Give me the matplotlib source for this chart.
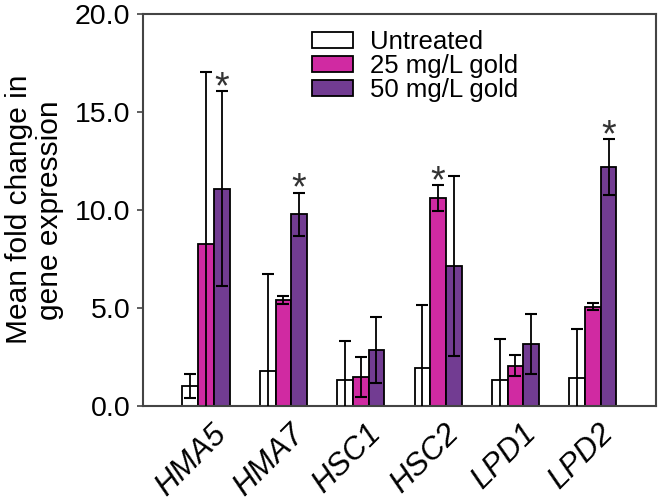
import numpy as np
import matplotlib
matplotlib.use('Agg')
import matplotlib.pyplot as plt
from matplotlib.transforms import ScaledTranslation

plt.rcParams['font.family'] = ['Liberation Sans', 'DejaVu Sans']

genes = ['HMA5', 'HMA7', 'HSC1', 'HSC2', 'LPD1', 'LPD2']
untreated = [1.0, 1.75, 1.3, 1.93, 1.28, 1.39]
untreated_err = [0.6, 4.95, 1.97, 3.2, 2.13, 2.52]
gold25 = [8.24, 5.39, 1.47, 10.59, 2.03, 5.05]
gold25_err = [8.79, 0.2, 1.03, 0.67, 0.54, 0.18]
gold50 = [11.07, 9.77, 2.84, 7.13, 3.15, 12.17]
gold50_err = [4.98, 1.1, 1.69, 4.61, 1.54, 1.44]
# significant: (series index, gene index)
stars = [(2, 0), (2, 1), (1, 3), (2, 5)]

labels = ['Untreated', '25 mg/L gold', '50 mg/L gold']
colors = ['white', '#D02AA2', '#723C92']

fig = plt.figure(figsize=(6.6, 5), dpi=100)
ax = fig.add_axes([0.2167, 0.189, 0.777, 0.783])

x = np.arange(len(genes))
w = 0.203
series = [(untreated, untreated_err), (gold25, gold25_err), (gold50, gold50_err)]
for i, (vals, errs) in enumerate(series):
    pos = x + (i - 1) * w
    ax.bar(pos, vals, w, color=colors[i], edgecolor='black', linewidth=1.3,
           label=labels[i], zorder=2)
    ax.errorbar(pos, vals, yerr=errs, fmt='none', ecolor='black',
                elinewidth=1.3, capsize=4, capthick=1.5, zorder=3)

for s, g in stars:
    vals, errs = series[s]
    ax.annotate('*', (x[g] + (s - 1) * w, vals[g] + errs[g]),
                xytext=(0, -5), textcoords='offset points',
                ha='center', va='baseline', fontsize=27, color='#333333')

ax.set_xlim(-0.814, 5.814)
ax.set_ylim(0, 20)
ax.set_yticks([0, 5, 10, 15, 20])
ax.set_yticklabels(['0.0', '5.0', '10.0', '15.0', '20.0'], fontsize=20.5)
ax.tick_params(axis='y', direction='out', length=4, width=1.2, pad=5, color='#444444')
ax.tick_params(axis='x', length=0, pad=0)
ax.set_xticks(x)
ax.set_xticklabels(genes, fontsize=22.5, style='italic', rotation=45,
                   ha='right', va='center', rotation_mode='anchor')
off = ScaledTranslation(16 / 100, -24 / 100, fig.dpi_scale_trans)
for lab in ax.get_xticklabels():
    lab.set_transform(lab.get_transform() + off)

for sp in ax.spines.values():
    sp.set_color('#444444')
    sp.set_linewidth(1.5)

ax.set_ylabel('Mean fold change in\ngene expression', fontsize=21.5, linespacing=1.12,
              labelpad=8)

ax.legend(loc='upper left', bbox_to_anchor=(0.31, 0.985), frameon=False,
          fontsize=18.5, handlelength=1.6, handleheight=0.6, handletextpad=0.65,
          labelspacing=0.0, borderaxespad=0)

fig.savefig('out.png', dpi=100)
